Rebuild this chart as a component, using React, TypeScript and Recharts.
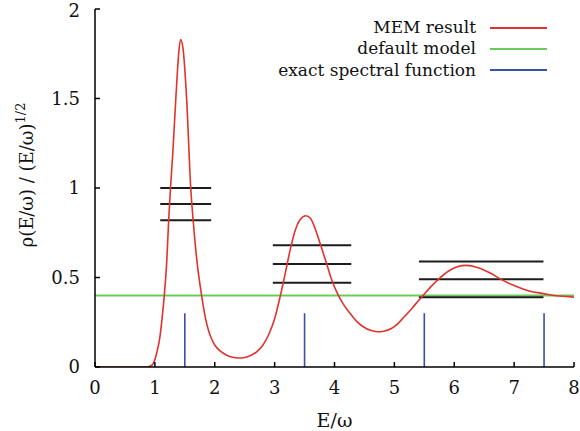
import React from 'react'
import {
  ComposedChart,
  Line,
  XAxis,
  YAxis,
  ReferenceLine,
  Legend,
} from 'recharts'

// MEM reconstruction
const memX = [
  0, 0.5, 0.86, 0.95, 1.0, 1.03, 1.085, 1.12, 1.157, 1.2, 1.23, 1.26, 1.3, 1.35,
  1.4, 1.43, 1.47, 1.53, 1.6, 1.64, 1.7, 1.78, 1.85, 1.9, 1.95, 2.0, 2.1, 2.2,
  2.3, 2.4, 2.5, 2.6, 2.7, 2.8, 2.9, 3.0, 3.09, 3.15, 3.2, 3.27, 3.35, 3.43,
  3.52, 3.6, 3.68, 3.77, 3.87, 3.95, 4.05, 4.15, 4.26, 4.37, 4.48, 4.6, 4.71,
  4.82, 4.95, 5.05, 5.15, 5.3, 5.4, 5.48, 5.6, 5.73, 5.9, 6.05, 6.2, 6.4, 6.6,
  6.79, 7.0, 7.25, 7.49, 7.7, 7.93, 8.0,
]
const memY = [
  0, 0, 0, 0.01, 0.04, 0.078, 0.17, 0.27, 0.4, 0.6, 0.817, 0.994, 1.2, 1.5,
  1.76, 1.83, 1.78, 1.5, 0.994, 0.817, 0.6, 0.4, 0.265, 0.2, 0.155, 0.123,
  0.087, 0.066, 0.054, 0.05, 0.053, 0.064, 0.085, 0.12, 0.18, 0.27, 0.39, 0.48,
  0.56, 0.67, 0.77, 0.825, 0.845, 0.83, 0.77, 0.68, 0.575, 0.49, 0.41, 0.35,
  0.3, 0.255, 0.225, 0.205, 0.197, 0.2, 0.215, 0.24, 0.275, 0.33, 0.37, 0.4,
  0.445, 0.488, 0.535, 0.56, 0.568, 0.555, 0.525, 0.488, 0.455, 0.425, 0.41,
  0.398, 0.393, 0.39,
]

// flat default model
const defaultX = [0, 8]
const defaultY = [0.4, 0.4]

// exact spectral function (delta peaks)
const peakX = [1.5, 3.5, 5.5, 7.5]
const peakHeight = 0.3

// horizontal bars per peak region
const barFrom = [1.09, 2.97, 5.41]
const barTo = [1.94, 4.28, 7.49]
const barLevels = [
  [1.0, 0.91, 0.82],
  [0.68, 0.575, 0.47],
  [0.59, 0.49, 0.39],
]

const xTicks = [0, 1, 2, 3, 4, 5, 6, 7, 8]
const yTicks = [0, 0.5, 1, 1.5, 2]

const COLORS = {
  mem: '#e3322b',
  model: '#6acb58',
  exact: '#3a4fa6',
  bars: '#1c1c1c',
}

const FONT = 'DejaVu Serif'
const FS = 18

const memData = memX.map((x, i) => ({ x, y: memY[i] }))
const modelData = defaultX.map((x, i) => ({ x, y: defaultY[i] }))
const exactData = peakX.flatMap(x => [
  { x, y: 0 },
  { x, y: peakHeight },
  { x, y: null },
])

const legendItems = [
  { name: 'MEM result', color: COLORS.mem },
  { name: 'default model', color: COLORS.model },
  { name: 'exact spectral function', color: COLORS.exact },
]

function LegendBox() {
  return (
    <div style={{ display: 'flex', flexDirection: 'column', alignItems: 'flex-end' }}>
      {legendItems.map(item => (
        <div
          key={item.name}
          style={{ display: 'flex', alignItems: 'center', height: 21.3 }}
        >
          <span
            style={{
              fontFamily: FONT,
              fontSize: 17,
              color: '#111',
              lineHeight: '21px',
              position: 'relative',
              top: 0,
            }}
          >
            {item.name}
          </span>
          <div
            style={{
              width: 57,
              height: 2,
              marginLeft: 14,
              backgroundColor: item.color,
            }}
          />
        </div>
      ))}
    </div>
  )
}

function YTitle() {
  return (
    <text
      x={33}
      y={175}
      transform="rotate(-90 33 175)"
      textAnchor="middle"
      fontFamily={FONT}
      fontSize={FS}
      fill="#111"
    >
      ρ(E/ω) / (E/ω)
      <tspan fontSize={13} dy={-8}>1/2</tspan>
    </text>
  )
}

const tickStyle = { fontSize: FS, fill: '#111', fontFamily: FONT }
const frame = { stroke: '#000', strokeWidth: 1.5 }

export default function App() {
  return (
    <div
      style={{
        position: 'absolute',
        left: 0,
        top: 0,
        width: 580,
        height: 431,
        background: '#fff',
        fontFamily: FONT,
      }}
    >
      <ComposedChart
        width={580}
        height={431}
        margin={{ top: 9, right: 6, bottom: 0, left: 0 }}
      >
        <XAxis
          xAxisId="b"
          dataKey="x"
          type="number"
          domain={[0, 8]}
          ticks={xTicks}
          allowDataOverflow
          height={64}
          tickSize={-5}
          tickMargin={19}
          tick={tickStyle}
          axisLine={frame}
          tickLine={frame}
          label={{
            value: 'E/ω',
            position: 'insideBottom',
            offset: 4,
            style: { fontSize: 19, fill: '#111', fontFamily: FONT },
          }}
        />
        <XAxis
          xAxisId="t"
          orientation="top"
          dataKey="x"
          type="number"
          domain={[0, 8]}
          ticks={xTicks}
          height={0}
          tickSize={-5}
          tickFormatter={() => ''}
          axisLine={frame}
          tickLine={frame}
        />
        <YAxis
          yAxisId="l"
          type="number"
          domain={[0, 2]}
          ticks={yTicks}
          allowDataOverflow
          width={95}
          tickSize={-5}
          tickMargin={20}
          tick={tickStyle}
          axisLine={frame}
          tickLine={frame}
          label={<YTitle />}
        />
        <YAxis
          yAxisId="r"
          orientation="right"
          type="number"
          domain={[0, 2]}
          ticks={yTicks}
          width={0}
          tickSize={-5}
          tickFormatter={() => ''}
          axisLine={frame}
          tickLine={frame}
        />
        <Legend
          layout="horizontal"
          align="center"
          verticalAlign="middle"
          wrapperStyle={{ left: 0, top: 17, width: 547 }}
          content={() => <LegendBox />}
        />
        <Line
          xAxisId="b"
          yAxisId="l"
          data={modelData}
          dataKey="y"
          name="default model"
          type="linear"
          stroke={COLORS.model}
          strokeWidth={2}
          dot={false}
          isAnimationActive={false}
        />
        {barLevels.flatMap((levels, g) =>
          levels.map((y, k) => (
            <ReferenceLine
              key={`bar-${g}-${k}`}
              xAxisId="b"
              yAxisId="l"
              segment={[
                { x: barFrom[g], y },
                { x: barTo[g], y },
              ]}
              stroke={COLORS.bars}
              strokeWidth={2}
            />
          ))
        )}
        <Line
          xAxisId="b"
          yAxisId="l"
          data={exactData}
          dataKey="y"
          name="exact spectral function"
          type="linear"
          stroke={COLORS.exact}
          strokeWidth={1.6}
          dot={false}
          connectNulls={false}
          isAnimationActive={false}
        />
        <Line
          xAxisId="b"
          yAxisId="l"
          data={memData}
          dataKey="y"
          name="MEM result"
          type="monotone"
          stroke={COLORS.mem}
          strokeWidth={1.6}
          dot={false}
          isAnimationActive={false}
        />
      </ComposedChart>
    </div>
  )
}
